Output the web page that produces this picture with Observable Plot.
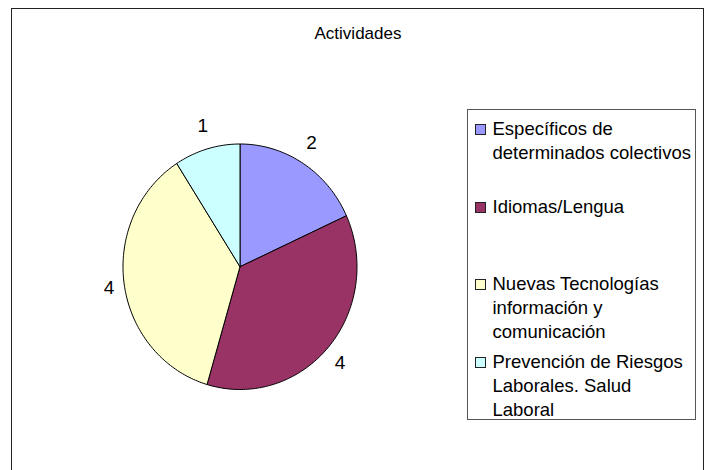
<!DOCTYPE html>
<html><head><meta charset="utf-8">
<script src="https://cdn.jsdelivr.net/npm/d3@7"></script>
<script src="https://cdn.jsdelivr.net/npm/@observablehq/plot@0.6"></script>
<style>
html,body{margin:0;padding:0;background:#fff;}
#wrap{position:relative;width:710px;height:470px;overflow:hidden;font-family:"Liberation Sans",Arial,sans-serif;color:#000;}
#frame{position:absolute;left:10.5px;top:8px;width:693px;height:480px;border:1.5px solid #222;box-sizing:border-box;}
#chart{position:absolute;left:0;top:0;}
#title{position:absolute;left:0;width:716px;top:24px;text-align:center;font-size:17px;}
#legend{position:absolute;left:467px;top:109px;width:229px;height:311px;border:1px solid #555;box-sizing:border-box;background:#fff;}
.item{position:absolute;left:0;width:228px;font-size:18.5px;line-height:24px;}
.sw{position:absolute;left:7px;top:7px;width:9px;height:9px;border:1px solid #222;}
.tx{position:absolute;left:24.5px;top:0;white-space:nowrap;}
</style></head>
<body>
<div id="wrap">
  <div id="chart"></div>
  <div id="frame"></div>
  <div id="title"></div>
  <div id="legend"></div>
</div>
<script>
const title = "Actividades";
const categories = [
  "Específicos de determinados colectivos",
  "Idiomas/Lengua",
  "Nuevas Tecnologías información y comunicación",
  "Prevención de Riesgos Laborales. Salud Laboral"
];
const legendLines = [
  ["Específicos de", "determinados colectivos"],
  ["Idiomas/Lengua"],
  ["Nuevas Tecnologías", "información y", "comunicación"],
  ["Prevención de Riesgos", "Laborales. Salud", "Laboral"]
];
const values = [2, 4, 4, 1];
const colors = ["#9999FF", "#993366", "#FFFFCC", "#CCFFFF"];

document.getElementById("title").textContent = title;

const pie = d3.pie().sort(null).value(d => d.value)
  (categories.map((c, i) => ({cat: c, value: values[i]})));

// slice outlines in unit coordinates (angle measured clockwise from top)
const pts = [];
for (const s of pie) {
  pts.push({cat: s.data.cat, x: 0, y: 0});
  const n = Math.max(2, Math.ceil((s.endAngle - s.startAngle) / (Math.PI / 180)));
  for (let k = 0; k <= n; k++) {
    const a = s.startAngle + (s.endAngle - s.startAngle) * k / n;
    pts.push({cat: s.data.cat, x: Math.sin(a), y: Math.cos(a)});
  }
  pts.push({cat: s.data.cat, x: 0, y: 0});
}
const labels = pie.map(s => {
  const a = (s.startAngle + s.endAngle) / 2;
  return {label: String(s.data.value), x: Math.sin(a) * 1.13, y: Math.cos(a) * 1.2};
});

const plot = Plot.plot({
  width: 710,
  height: 470,
  margin: 0,
  x: {domain: [-1, 1], range: [122.5, 356.5], axis: null},
  y: {domain: [-1, 1], range: [389, 143.5], axis: null},
  color: {domain: categories, range: colors},
  style: {fontFamily: "'Liberation Sans', Arial, sans-serif", background: "transparent"},
  marks: [
    Plot.line(pts, {x: "x", y: "y", z: "cat", fill: "cat", stroke: "#000", strokeWidth: 1, curve: "linear", strokeLinejoin: "round"}),
    Plot.text(labels, {x: "x", y: "y", text: "label", fontSize: 19, fill: "#000"})
  ]
});
document.getElementById("chart").appendChild(plot);

const legend = document.getElementById("legend");
legendLines.forEach((lines, i) => {
  const item = document.createElement("div");
  item.className = "item";
  item.style.top = (7 + i * 77.5) + "px";
  const sw = document.createElement("div");
  sw.className = "sw";
  sw.style.background = colors[i];
  const tx = document.createElement("div");
  tx.className = "tx";
  tx.innerHTML = lines.map(l => l.replace(/&/g, "&amp;").replace(/</g, "&lt;")).join("<br>");
  item.appendChild(sw);
  item.appendChild(tx);
  legend.appendChild(item);
});
</script>
</body></html>
